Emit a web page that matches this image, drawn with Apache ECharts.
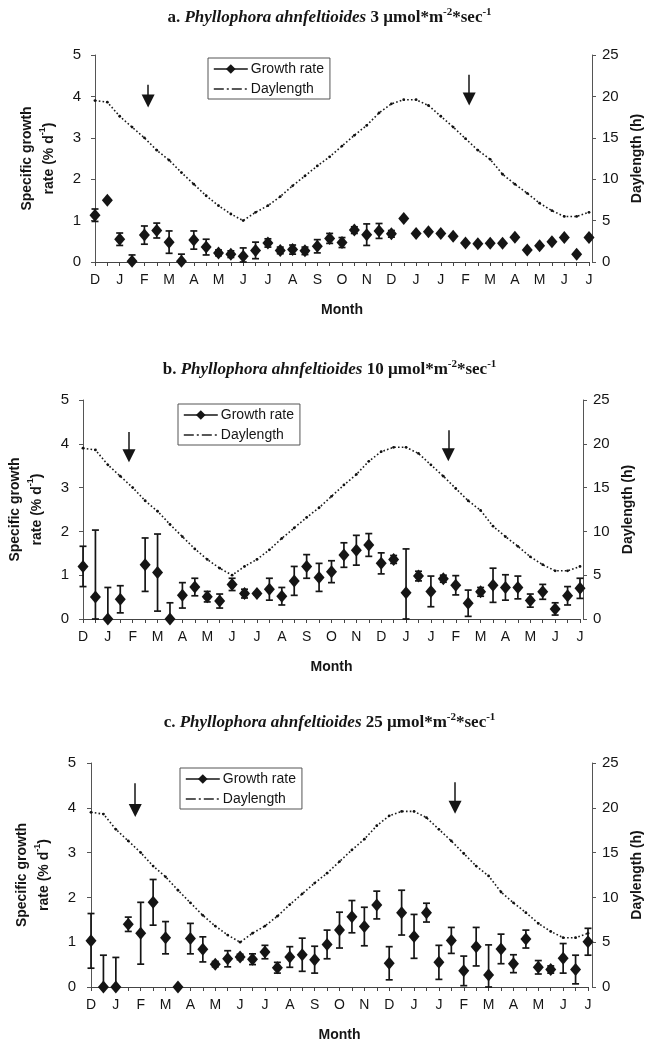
<!DOCTYPE html>
<html><head><meta charset="utf-8">
<script src="https://cdn.jsdelivr.net/npm/echarts@6/dist/echarts.min.js"></script>
<style>html,body{margin:0;padding:0;background:#fff}#c{width:659px;height:1046px}</style>
</head><body><div id="c"></div>
<script>
// ---------- data ----------
const monthLabels = ['D','J','F','M','A','M','J','J','A','S','O','N','D','J','J','F','M','A','M','J','J'];
// daylength (h), one value every half month
const daylength = [19.5,19.3,17.6,16.3,15.0,13.5,12.3,10.8,9.4,8.0,6.8,5.8,5.0,6.0,6.8,7.9,9.2,10.4,11.6,12.7,14.0,15.3,16.5,18.0,19.1,19.6,19.6,18.9,17.6,16.3,14.9,13.5,12.4,10.6,9.4,8.3,7.1,6.2,5.5,5.5,6.0];

const growthA = [1.13,1.49,0.55,0.02,0.65,0.76,0.48,0.02,0.53,0.36,0.22,0.19,0.14,0.28,0.46,0.28,0.30,0.27,0.38,0.57,0.47,0.77,0.66,0.75,0.68,1.05,0.69,0.73,0.69,0.62,0.46,0.44,0.45,0.45,0.60,0.29,0.39,0.49,0.59,0.19,0.59];
const errA    = [0.15,0,0.15,0.15,0.22,0.18,0.27,0.17,0.22,0.19,0.07,0.08,0.20,0.20,0.10,0.08,0.11,0.09,0.16,0.12,0.12,0.08,0.26,0.18,0.08,0,0,0,0,0,0,0,0,0,0,0,0,0,0,0,0];

const growthB = [1.20,0.50,0.00,0.45,null,1.24,1.06,0.00,0.54,0.73,0.51,0.41,0.79,0.58,0.58,0.68,0.52,0.87,1.20,0.95,1.08,1.46,1.57,1.69,1.27,1.36,0.60,0.98,0.63,0.92,0.77,0.36,0.62,0.77,0.72,0.72,0.42,0.62,0.23,0.53,0.70];
const errB    = [0.46,1.53,0.72,0.31,null,0.61,0.88,0.37,0.29,0.20,0.12,0.16,0.14,0.10,0.03,0.25,0.20,0.33,0.27,0.32,0.25,0.28,0.34,0.26,0.24,0.09,1.00,0.11,0.35,0.08,0.22,0.30,0.10,0.39,0.29,0.26,0.15,0.17,0.14,0.21,0.23];

const growthC = [1.03,0.00,0.00,1.40,1.20,1.89,1.10,0.00,1.08,0.84,0.51,0.63,0.67,0.62,0.78,0.43,0.67,0.72,0.61,0.95,1.27,1.57,1.35,1.83,0.53,1.66,1.13,1.66,0.55,1.04,0.36,0.90,0.27,0.85,0.52,1.07,0.44,0.39,0.64,0.39,1.01];
const errC    = [0.61,0.71,0.66,0.16,0.69,0.51,0.36,0,0.34,0.28,0.06,0.18,0.06,0.12,0.15,0.12,0.23,0.37,0.30,0.32,0.40,0.36,0.43,0.31,0.37,0.50,0.49,0.21,0.38,0.29,0.33,0.43,0.67,0.33,0.20,0.20,0.15,0.08,0.33,0.32,0.30];

// arrows: [x position (half-month index), top value, tip value]
const arrowsA = [[4.3,4.28,3.74],[30.3,4.52,3.79]];
const arrowsB = [[3.7,4.27,3.58],[29.4,4.31,3.60]];
const arrowsC = [[3.56,4.55,3.79],[29.3,4.57,3.86]];

const panelLetters = ['a.','b.','c.'];
const irradiance = ['3','10','25'];

// ---------- layout ----------
const layout = [
  {grid:{left:95, top:55, width:494, height:207}, yOff:3, legend:{left:208, top:58}, titleTop:2},
  {grid:{left:83, top:400, width:497, height:219}, yOff:3, legend:{left:178, top:404}, titleTop:354},
  {grid:{left:91, top:763, width:497, height:224}, yOff:4, legend:{left:180, top:768}, titleTop:707}
];
const growthSets = [growthA, growthB, growthC];
const errSets = [errA, errB, errC];
const arrowSets = [arrowsA, arrowsB, arrowsC];

const SANS = 'Liberation Sans, Arial, sans-serif';
const SERIF = 'Liberation Serif, Times New Roman, serif';
const INK = '#151515';

const option = {
  backgroundColor:'#fff', animation:false,
  title:[], grid:[], xAxis:[], yAxis:[], legend:[], series:[]
};

layout.forEach((L, i) => {
  option.title.push({
    left:'center', top:L.titleTop,
    text:'{b|' + panelLetters[i] + ' }{i|Phyllophora ahnfeltioides}{b| ' + irradiance[i] + ' µmol*m}{s|-2}{b|*sec}{s|-1}',
    textStyle:{rich:{
      b:{fontFamily:SERIF, fontWeight:'bold', fontSize:17, color:INK, lineHeight:22},
      i:{fontFamily:SERIF, fontWeight:'bold', fontStyle:'italic', fontSize:17, color:INK, lineHeight:22},
      s:{fontFamily:SERIF, fontWeight:'bold', fontSize:11, color:INK, lineHeight:22, verticalAlign:'top'}
    }}
  });
  option.grid.push(Object.assign({containLabel:false}, L.grid));
  option.xAxis.push({
    type:'value', gridIndex:i, min:0, max:40, interval:1,
    name:'Month', nameLocation:'middle', nameGap:41,
    nameTextStyle:{fontFamily:SANS, fontWeight:'bold', fontSize:14, color:INK},
    axisLine:{show:true, lineStyle:{color:'#444', width:1}},
    axisTick:{show:true, length:4, lineStyle:{color:'#444'}},
    axisLabel:{fontFamily:SANS, fontSize:14, color:INK, margin:11,
      formatter: v => (v % 2 === 0 ? monthLabels[v/2] : '')},
    splitLine:{show:false}
  });
  option.yAxis.push({
    type:'value', gridIndex:i, min:0, max:5, interval:1, position:'left', offset:L.yOff,
    name:'{n|Specific growth}\n{n|rate (% d}{s|-1}{n|)}', nameLocation:'middle', nameGap:32, nameRotate:90,
    nameTextStyle:{rich:{
      n:{fontFamily:SANS, fontWeight:'bold', fontSize:14, color:INK, lineHeight:22},
      s:{fontFamily:SANS, fontWeight:'bold', fontSize:9, color:INK, lineHeight:22, verticalAlign:'top'}
    }},
    axisLine:{show:true, lineStyle:{color:'#555', width:1}},
    axisTick:{show:true, length:4, lineStyle:{color:'#555'}},
    axisLabel:{fontFamily:SANS, fontSize:15, color:INK, margin:11},
    splitLine:{show:false}
  });
  option.yAxis.push({
    type:'value', gridIndex:i, min:0, max:25, interval:5, position:'right', offset:L.yOff,
    name:'Daylength (h)', nameLocation:'middle', nameGap:38, nameRotate:90,
    nameTextStyle:{fontFamily:SANS, fontWeight:'bold', fontSize:14, color:INK},
    axisLine:{show:true, lineStyle:{color:'#555', width:1}},
    axisTick:{show:true, length:4, lineStyle:{color:'#555'}},
    axisLabel:{fontFamily:SANS, fontSize:15, color:INK, margin:10},
    splitLine:{show:false}
  });
  option.legend.push({
    left:L.legend.left, top:L.legend.top, orient:'vertical', selectedMode:false,
    borderColor:'#555', borderWidth:1, padding:[4,6,3,5], itemGap:6, itemWidth:34, itemHeight:12,
    textStyle:{fontFamily:SANS, fontSize:14, color:INK, padding:[0,0,0,-2]},
    data:[
      {name:'Growth rate', lineStyle:{color:INK, width:1.6, opacity:1, type:'solid'}},
      {name:'Daylength', itemStyle:{opacity:0}, lineStyle:{color:'#222', width:1.3, opacity:1, type:[10,3,2,3]}}
    ]
  });

  const g = growthSets[i], e = errSets[i];
  const pts = [], bars = [];
  g.forEach((v, k) => { if (v !== null) { pts.push([k, v]); if (e[k]) bars.push([k, v, e[k]]); } });

  // daylength curve (right axis)
  option.series.push({
    type:'line', name:'Daylength', xAxisIndex:i, yAxisIndex:2*i+1,
    data: daylength.map((v, k) => [k, v]),
    symbol:'circle', symbolSize:2.8, showSymbol:true,
    itemStyle:{color:'#111'},
    lineStyle:{color:'#1a1a1a', width:1.6, type:[1.6,2.2]},
    z:2, silent:true
  });
  // error bars
  option.series.push({
    type:'custom', name:'err'+i, xAxisIndex:i, yAxisIndex:2*i, data:bars, z:3, silent:true,
    renderItem:(params, api) => {
      const x = api.value(0), y = api.value(1), er = api.value(2);
      const hi = api.coord([x, y + er]);
      const lo = api.coord([x, Math.max(0, y - er)]);
      const w = 3.5;
      const st = {stroke:INK, lineWidth:1.7};
      return {type:'group', children:[
        {type:'line', shape:{x1:hi[0], y1:hi[1], x2:lo[0], y2:lo[1]}, style:st},
        {type:'line', shape:{x1:hi[0]-w, y1:hi[1], x2:hi[0]+w, y2:hi[1]}, style:st},
        {type:'line', shape:{x1:lo[0]-w, y1:lo[1], x2:lo[0]+w, y2:lo[1]}, style:st}
      ]};
    }
  });
  // growth rate diamonds
  const arrows = arrowSets[i];
  option.series.push({
    type:'line', name:'Growth rate', xAxisIndex:i, yAxisIndex:2*i, data:pts,
    symbol:'diamond', symbolSize:[11,13], showSymbol:true,
    itemStyle:{color:INK}, lineStyle:{opacity:0, width:0}, z:4, silent:true,
    markLine:{
      silent:true, symbol:['none','triangle'], symbolSize:13,
      label:{show:false}, lineStyle:{color:INK, width:1.5, type:'solid'},
      itemStyle:{color:INK},
      data: arrows.map(a => [{coord:[a[0], a[1]]}, {coord:[a[0], a[2] + 0.15]}])
    }
  });
});

const chart = echarts.init(document.getElementById('c'), null, {renderer:'canvas'});
chart.setOption(option);
</script>
</body></html>
